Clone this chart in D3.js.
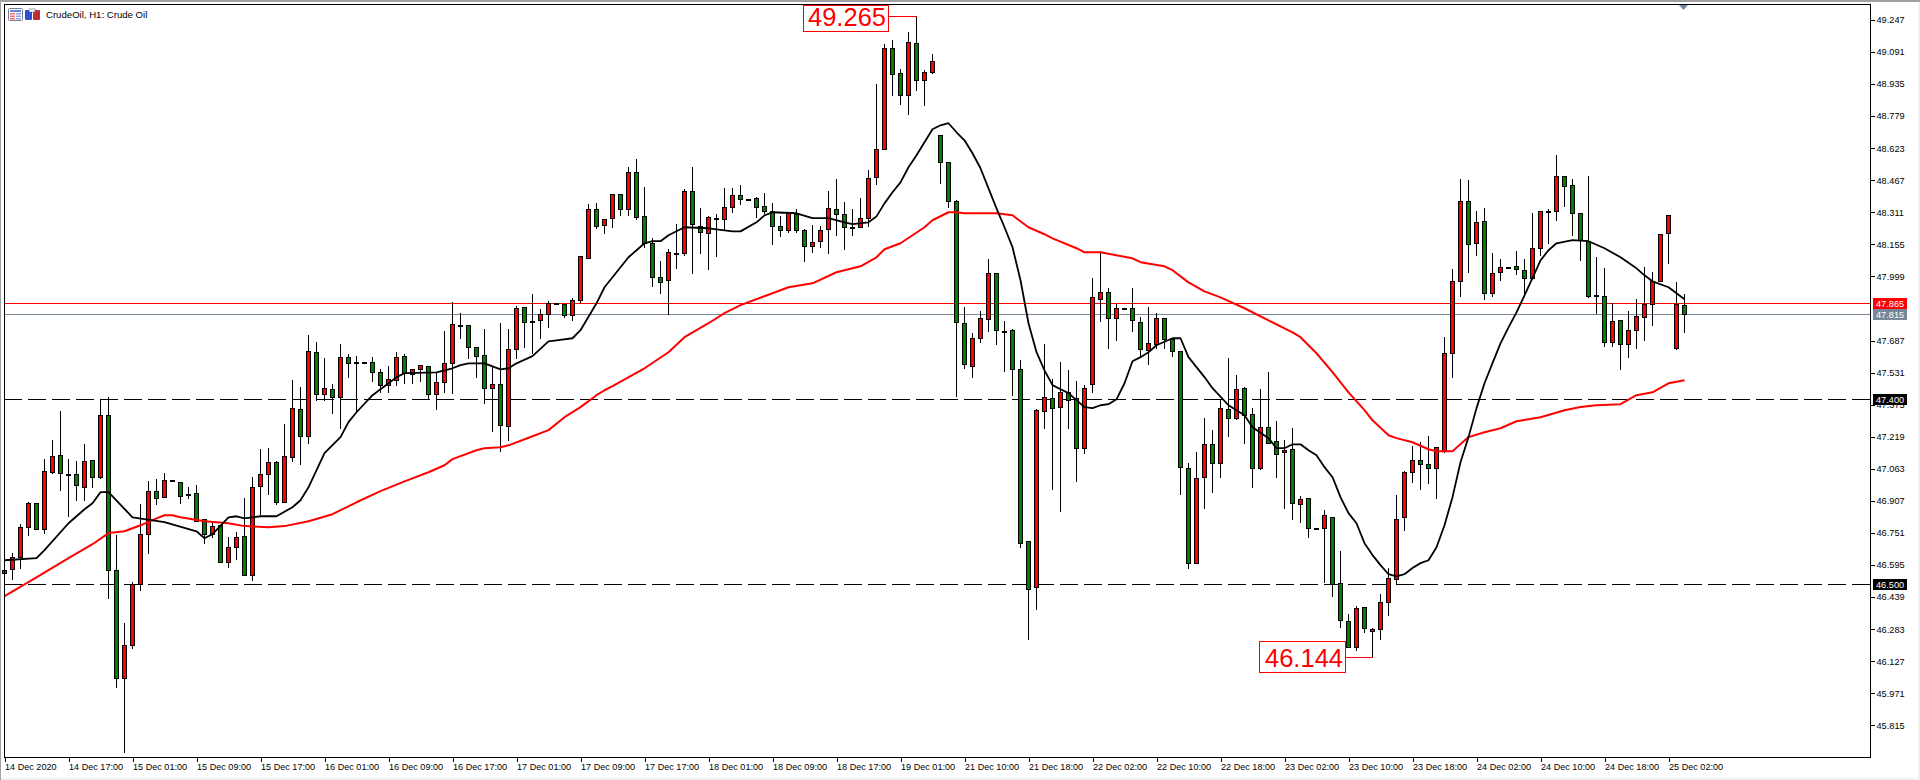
<!DOCTYPE html>
<html>
<head>
<meta charset="utf-8">
<script src="https://cdn.jsdelivr.net/npm/d3@7"></script>
<style>
html,body{margin:0;padding:0;background:#fff;overflow:hidden}
svg{display:block}
text{font-family:"Liberation Sans",Arial,sans-serif}
</style>
</head>
<body>
<svg id="chart" width="1920" height="780"></svg>
<script>
const opens=[46.555,46.575,46.633,46.779,46.895,46.769,47.046,47.129,47.036,47.036,46.973,47.105,47.022,47.324,46.570,46.044,46.205,46.501,46.745,46.954,46.925,47.007,46.997,46.939,46.944,46.818,46.745,46.788,46.608,46.681,46.735,46.545,46.978,47.036,47.095,46.900,47.119,47.353,47.221,47.630,47.426,47.450,47.411,47.605,47.581,47.581,47.581,47.532,47.470,47.494,47.611,47.523,47.547,47.562,47.426,47.484,47.576,47.761,47.761,47.654,
47.616,47.455,47.475,47.270,47.644,47.849,47.780,47.785,47.815,47.868,47.863,47.810,47.883,48.087,48.325,48.248,48.282,48.398,48.325,48.505,48.291,48.160,47.995,47.980,48.106,48.111,48.413,48.243,48.209,48.282,48.277,48.335,48.393,48.374,48.379,48.340,48.315,48.243,48.223,48.301,48.223,48.145,48.170,48.228,48.325,48.301,48.238,48.238,48.282,48.481,48.617,49.109,48.987,48.880,49.132,48.953,48.992,48.685,48.554,48.364,
47.770,47.562,47.698,47.790,48.014,47.732,47.737,47.547,46.710,46.487,47.343,47.406,47.363,47.436,47.406,47.163,47.475,47.888,47.922,47.795,47.844,47.844,47.775,47.640,47.668,47.795,47.693,47.635,47.066,46.604,47.022,47.182,47.090,47.353,47.309,47.455,47.328,47.066,47.265,47.197,47.143,47.158,46.890,46.920,46.774,46.774,46.827,46.506,46.321,46.195,46.390,46.273,46.282,46.414,46.526,46.827,47.046,47.105,47.085,47.066,
47.148,47.625,47.975,48.364,48.160,48.267,47.917,48.019,48.043,48.048,48.029,47.990,48.136,48.310,48.315,48.486,48.442,48.306,48.170,47.907,47.902,47.678,47.785,47.669,47.737,47.800,47.863,47.975,48.209,47.649,47.858];
const closes=[46.570,46.633,46.779,46.895,46.769,47.051,47.124,47.041,47.032,46.983,47.100,47.022,47.324,46.570,46.044,46.205,46.501,46.745,46.954,46.920,47.007,47.002,46.930,46.934,46.808,46.745,46.784,46.608,46.681,46.730,46.545,46.973,47.036,47.095,46.900,47.124,47.357,47.221,47.635,47.426,47.455,47.411,47.605,47.576,47.576,47.576,47.532,47.470,47.499,47.605,47.528,47.547,47.567,47.426,47.484,47.576,47.766,47.756,47.654,47.611,
47.455,47.475,47.275,47.644,47.844,47.775,47.775,47.815,47.868,47.863,47.810,47.883,48.097,48.325,48.243,48.277,48.398,48.325,48.505,48.286,48.160,47.995,47.970,48.116,48.111,48.413,48.253,48.213,48.286,48.277,48.335,48.393,48.374,48.369,48.335,48.315,48.243,48.223,48.306,48.223,48.145,48.165,48.223,48.330,48.301,48.238,48.233,48.282,48.476,48.617,49.109,48.982,48.880,49.137,48.953,48.992,49.045,48.554,48.364,47.775,
47.572,47.698,47.795,48.014,47.737,47.727,47.547,46.701,46.477,47.348,47.411,47.358,47.436,47.397,47.163,47.455,47.898,47.922,47.795,47.844,47.839,47.785,47.644,47.673,47.795,47.693,47.635,47.071,46.604,47.017,47.182,47.090,47.358,47.309,47.450,47.323,47.066,47.265,47.187,47.134,47.153,46.895,46.915,46.774,46.769,46.837,46.501,46.326,46.195,46.385,46.287,46.282,46.414,46.531,46.818,47.046,47.105,47.085,47.066,47.168,
47.625,47.975,48.364,48.155,48.262,47.917,48.014,48.043,48.038,48.033,47.990,48.136,48.315,48.315,48.486,48.437,48.306,48.175,47.902,47.902,47.678,47.780,47.669,47.737,47.805,47.863,47.975,48.204,48.296,47.863,47.815];
const highs=[46.594,46.657,46.798,46.905,46.895,47.115,47.207,47.348,47.115,47.105,47.187,47.105,47.401,47.416,46.745,46.316,46.516,46.895,47.007,47.017,47.046,47.007,47.002,46.978,46.988,46.822,46.813,46.788,46.735,46.759,46.925,47.027,47.163,47.168,47.105,47.285,47.499,47.465,47.717,47.683,47.605,47.479,47.673,47.625,47.616,47.581,47.611,47.552,47.567,47.635,47.625,47.547,47.567,47.567,47.532,47.737,47.878,47.824,47.761,47.654,
47.747,47.567,47.775,47.747,47.859,47.849,47.917,47.844,47.883,47.868,47.868,47.898,48.097,48.354,48.359,48.277,48.403,48.403,48.535,48.574,48.437,48.189,48.077,48.136,48.257,48.428,48.535,48.335,48.296,48.306,48.432,48.432,48.447,48.374,48.389,48.408,48.359,48.296,48.315,48.330,48.233,48.253,48.248,48.418,48.476,48.364,48.330,48.384,48.520,48.938,49.132,49.152,49.012,49.191,49.265,49.007,49.084,48.690,48.559,48.374,
47.853,47.727,47.834,48.087,48.014,47.785,47.747,47.596,46.715,47.358,47.673,47.503,47.586,47.547,47.494,47.475,47.995,48.126,47.946,47.868,47.844,47.946,47.805,47.853,47.824,47.795,47.693,47.635,47.095,47.148,47.314,47.255,47.406,47.605,47.523,47.465,47.363,47.455,47.537,47.299,47.207,47.265,46.934,46.925,46.774,46.866,46.827,46.667,46.360,46.399,46.390,46.292,46.458,46.584,46.939,47.056,47.177,47.197,47.226,47.168,
47.707,48.039,48.476,48.471,48.320,48.335,48.116,48.087,48.043,48.126,48.087,48.310,48.315,48.330,48.593,48.486,48.476,48.306,48.491,48.097,48.043,47.873,47.785,47.834,47.893,48.048,48.024,48.204,48.296,47.975,47.917];
const lows=[46.531,46.526,46.580,46.740,46.769,46.750,47.041,46.959,46.832,46.910,46.910,46.973,47.017,46.433,46.000,45.684,46.190,46.472,46.652,46.890,46.925,47.002,46.895,46.920,46.808,46.701,46.730,46.608,46.584,46.623,46.545,46.521,46.842,46.939,46.890,46.900,47.100,47.085,47.187,47.397,47.397,47.333,47.260,47.508,47.343,47.576,47.489,47.435,47.435,47.470,47.479,47.479,47.489,47.401,47.353,47.435,47.431,47.698,47.601,47.508,
47.382,47.246,47.148,47.202,47.601,47.654,47.625,47.698,47.751,47.863,47.800,47.785,47.873,48.087,48.233,48.209,48.238,48.296,48.296,48.277,48.141,47.951,47.917,47.815,48.038,48.102,48.014,48.111,48.034,48.097,48.228,48.310,48.350,48.369,48.286,48.306,48.155,48.194,48.213,48.213,48.072,48.116,48.141,48.111,48.199,48.131,48.199,48.238,48.243,48.447,48.617,48.880,48.836,48.787,48.904,48.831,48.987,48.452,48.335,47.416,
47.552,47.508,47.678,47.732,47.668,47.537,47.421,46.681,46.234,46.380,47.260,46.963,46.856,47.260,47.002,47.139,47.435,47.780,47.649,47.688,47.839,47.732,47.610,47.572,47.649,47.649,47.610,46.939,46.580,46.604,46.871,46.949,47.022,47.221,47.304,47.187,46.973,47.061,47.187,47.022,46.871,46.818,46.803,46.730,46.769,46.511,46.443,46.292,46.195,46.180,46.268,46.144,46.234,46.350,46.501,46.764,46.997,46.963,46.992,46.920,
47.143,47.508,47.902,48.019,48.102,47.888,47.902,47.980,48.038,48.009,47.917,47.985,48.102,48.160,48.272,48.340,48.199,48.077,47.898,47.820,47.659,47.659,47.547,47.605,47.649,47.688,47.761,47.975,48.063,47.644,47.727];
const fastMaBars=[0,4,5,8,10,11,12,13,16,20,24,25,26,28,29,30,32,34,36,37,38,40,42,43,44,46,48,49,50,54,56,57,58,60,62,63,64,66,68,69,71,72,74,75,76,78,80,81,82,83,85,88,91,92,94,95,96,99,101,103,105,106,108,109,110,111,112,113,114,116,117,118,119,120,121,122,123,124,125,126,127,128,129,130,131,132,133,135,136,137,138,139,140,141,142,143,144,146,147,148,150,151,153,155,156,158,159,160,161,162,163,164,165,166,167,168,169,170,171,172,173,174,175,176,177,178,179,180,181,182,183,184,185,186,187,188,189,190,191,192,193,194,196,198,200,202,204,205,206,208,210];
const fastMaValues=[46.618,46.628,46.667,46.798,46.866,46.895,46.949,46.949,46.827,46.803,46.759,46.725,46.745,46.827,46.832,46.822,46.832,46.832,46.876,46.910,46.973,47.139,47.217,47.290,47.338,47.421,47.479,47.509,47.528,47.532,47.552,47.567,47.576,47.576,47.547,47.552,47.576,47.611,47.683,47.688,47.698,47.737,47.868,47.946,47.995,48.092,48.160,48.170,48.170,48.199,48.238,48.233,48.218,48.218,48.262,48.296,48.311,48.306,48.282,48.282,48.262,48.253,48.262,48.291,48.354,48.408,48.456,48.530,48.588,48.715,48.734,48.744,48.700,48.661,48.598,48.525,48.427,48.330,48.238,48.141,47.980,47.771,47.630,47.542,47.470,47.450,47.431,47.363,47.358,47.372,47.377,47.401,47.479,47.586,47.606,47.630,47.664,47.698,47.698,47.606,47.509,47.455,47.372,47.323,47.265,47.212,47.163,47.163,47.182,47.182,47.153,47.129,47.071,47.022,46.925,46.847,46.798,46.701,46.643,46.594,46.550,46.540,46.550,46.580,46.604,46.618,46.681,46.788,46.925,47.095,47.217,47.358,47.479,47.577,47.673,47.751,47.824,47.907,47.990,48.077,48.126,48.160,48.175,48.170,48.136,48.092,48.038,48.004,47.975,47.946,47.888];
const slowMaBars=[0,4,8,11,13,15,17,19,20,21,22,25,28,30,33,35,38,41,44,47,50,53,55,56,59,60,62,63,66,68,70,72,74,75,76,80,83,85,88,90,92,96,98,101,104,107,109,110,112,115,116,118,119,120,124,126,128,130,131,134,135,137,141,142,145,146,148,150,152,155,158,161,162,164,166,168,170,171,173,174,176,178,179,180,181,183,185,187,189,192,195,197,199,202,204,206,208,210];
const slowMaValues=[46.443,46.535,46.628,46.696,46.750,46.759,46.788,46.822,46.837,46.837,46.827,46.808,46.798,46.784,46.779,46.784,46.808,46.842,46.900,46.954,47.002,47.046,47.080,47.110,47.153,47.163,47.168,47.177,47.221,47.251,47.314,47.363,47.421,47.445,47.465,47.552,47.630,47.703,47.771,47.820,47.859,47.917,47.946,47.965,48.019,48.048,48.092,48.131,48.160,48.238,48.272,48.311,48.311,48.306,48.306,48.296,48.238,48.204,48.184,48.136,48.116,48.116,48.087,48.068,48.048,48.029,47.970,47.926,47.897,47.844,47.785,47.727,47.703,47.625,47.533,47.435,47.348,47.299,47.226,47.212,47.192,47.158,47.148,47.148,47.148,47.217,47.241,47.260,47.294,47.314,47.348,47.363,47.372,47.377,47.421,47.435,47.479,47.494];
const priceTicks=[49.247,49.091,48.935,48.779,48.623,48.467,48.311,48.155,47.999,47.687,47.531,47.375,47.219,47.063,46.907,46.751,46.595,46.439,46.283,46.127,45.971,45.815];
const timeLabels=["14 Dec 2020","14 Dec 17:00","15 Dec 01:00","15 Dec 09:00","15 Dec 17:00","16 Dec 01:00","16 Dec 09:00","16 Dec 17:00","17 Dec 01:00","17 Dec 09:00","17 Dec 17:00","18 Dec 01:00","18 Dec 09:00","18 Dec 17:00","19 Dec 01:00","21 Dec 10:00","21 Dec 18:00","22 Dec 02:00","22 Dec 10:00","22 Dec 18:00","23 Dec 02:00","23 Dec 10:00","23 Dec 18:00","24 Dec 02:00","24 Dec 10:00","24 Dec 18:00","25 Dec 02:00"];
const barsPerTimeLabel=8;
const levelLines=[{p:47.865,c:"#ff0000",bg:"#ff0000",dash:null},{p:47.815,c:"#778899",bg:"#778899",dash:null},{p:47.4,c:"#000",bg:"#000",dash:"18 6"},{p:46.5,c:"#000",bg:"#000",dash:"18 6"}];
const extremes=[{value:49.265,bar:114,box:[803,5,85,26],tx:808,tb:26},{value:46.144,bar:171,box:[1259,641,86,31],tx:1265,tb:667}];

const W=1920,H=780,L=4,T=4,R=1870,B=757;
const x=d3.scaleLinear().domain([0,1]).range([4.5,12.5]);
const y=d3.scaleLinear().domain([47.4,46.5]).range([399.5,584.5]);
const py=p=>Math.round(y(p)-0.5)+0.5;
const svg=d3.select("#chart");
// window frame
svg.append("rect").attr("width",W).attr("height",H).attr("fill","#f0f0f0");
svg.append("rect").attr("x",1).attr("y",2).attr("width",W-3).attr("height",776).attr("fill","#fff");
svg.append("rect").attr("width",W).attr("height",2).attr("fill","#a0a0a0");
svg.append("rect").attr("width",1).attr("height",H).attr("fill","#a0a0a0");

const g=svg.append("g");
// price axis
const yAxis=d3.axisRight(y).tickValues(priceTicks).tickSize(4).tickPadding(2).tickFormat(d3.format(".3f"));
const ya=g.append("g").attr("transform",`translate(${R+0.5},0)`).call(yAxis);
ya.select(".domain").remove();
ya.selectAll("line").attr("shape-rendering","crispEdges").attr("stroke","#000");
ya.selectAll("text").attr("font-size","9.2px").attr("fill","#000").style("font-family",'"Liberation Sans"');
// time axis
const tickBars=timeLabels.map((_,i)=>i*barsPerTimeLabel);
const xAxis=d3.axisBottom(x).tickValues(tickBars).tickSize(4).tickFormat((d,i)=>timeLabels[i]);
const xa=g.append("g").attr("transform",`translate(0,${B+0.5})`).call(xAxis);
xa.select(".domain").remove();
xa.selectAll("line").attr("shape-rendering","crispEdges").attr("stroke","#000");
xa.selectAll("text").attr("text-anchor","start").attr("y",6).attr("dy","0.71em").attr("font-size","9.1px").attr("fill","#000").style("font-family",'"Liberation Sans"');

// level lines (under candles)
const plot=g.append("g");
plot.selectAll("line.level").data(levelLines).join("line").attr("class","level")
 .attr("x1",L).attr("x2",R).attr("y1",d=>py(d.p)).attr("y2",d=>py(d.p))
 .attr("stroke",d=>d.c).attr("stroke-dasharray",d=>d.dash).attr("stroke-width",1).attr("shape-rendering","crispEdges");

// candles
const bars=d3.range(opens.length);
plot.selectAll("line.wick").data(bars).join("line").attr("class","wick")
 .attr("x1",x).attr("x2",x).attr("y1",i=>py(highs[i])).attr("y2",i=>py(lows[i]))
 .attr("stroke","#000").attr("shape-rendering","crispEdges");
plot.selectAll("rect.body").data(bars).join("rect").attr("class","body")
 .attr("x",i=>x(i)-2).attr("width",4)
 .attr("y",i=>py(Math.max(opens[i],closes[i])))
 .attr("height",i=>Math.max(1,py(Math.min(opens[i],closes[i]))-py(Math.max(opens[i],closes[i]))))
 .attr("fill",i=>closes[i]>=opens[i]?"#ff0000":"#008000")
 .attr("stroke","#000").attr("stroke-width",1).attr("shape-rendering","crispEdges");

// moving averages
const line=d3.line().x(d=>x(d[0])).y(d=>y(d[1]));
plot.append("path").attr("d",line(slowMaBars.map((b,i)=>[b,slowMaValues[i]])))
 .attr("fill","none").attr("stroke","#ff0000").attr("stroke-width",2).attr("stroke-linejoin","round");
plot.append("path").attr("d",line(fastMaBars.map((b,i)=>[b,fastMaValues[i]])))
 .attr("fill","none").attr("stroke","#000").attr("stroke-width",1.8).attr("stroke-linejoin","round");

// frame of plot
g.append("path").attr("d",`M${L+0.5},${B+0.5}V${T+0.5}H${R+0.5}V${B+0.5}H${L+0.5}`)
 .attr("fill","none").attr("stroke","#000").attr("shape-rendering","crispEdges");

// extreme annotations
const ann=g.selectAll("g.ann").data(extremes).join("g").attr("class","ann");
ann.append("path").attr("d",d=>{
  const ly=Math.round(y(d.value)-0.5)+0.5;
  return `M${d.box[0]+d.box[2]},${ly}H${x(d.bar)}`;
}).attr("fill","none").attr("stroke","#ff0000").attr("shape-rendering","crispEdges");
ann.append("rect").attr("x",d=>d.box[0]+0.5).attr("y",d=>d.box[1]+0.5).attr("width",d=>d.box[2]).attr("height",d=>d.box[3])
 .attr("fill","#fff").attr("stroke","#ff0000").attr("shape-rendering","crispEdges");
ann.append("text").attr("x",d=>d.tx).attr("y",d=>d.tb).attr("font-size","25.5px").attr("fill","#ff0000")
 .text(d=>d3.format(".3f")(d.value));

// price tags
const tags=g.selectAll("g.tag").data(levelLines).join("g").attr("class","tag");
tags.append("rect").attr("x",1873).attr("width",34).attr("y",d=>py(d.p)-5.5).attr("height",11).attr("fill",d=>d.bg);
tags.append("text").attr("x",1876).attr("y",d=>py(d.p)+3.5).attr("font-size","9.2px").attr("fill","#fff").text(d=>d3.format(".3f")(d.p));

// title and icons
g.append("text").attr("x",46).attr("y",18).attr("font-size","9.6px").attr("fill","#000").text("CrudeOil, H1:  Crude Oil");
const ic=g.append("g");
ic.append("rect").attr("x",8.5).attr("y",8.5).attr("width",14).attr("height",12).attr("rx",1).attr("fill","#fff").attr("stroke","#7080a0");
ic.append("rect").attr("x",10).attr("y",10).attr("width",11).attr("height",2).attr("fill","#6a7fe0");
[13,15.5,18].forEach(v=>{
  ic.append("rect").attr("x",10).attr("y",v).attr("width",5).attr("height",1.5).attr("fill","#f07070");
  ic.append("rect").attr("x",16).attr("y",v).attr("width",5).attr("height",1.5).attr("fill","#8fa0ee");
});
ic.append("rect").attr("x",25).attr("y",10).attr("width",7).attr("height",10).attr("rx",1).attr("fill","#3050d0");
ic.append("rect").attr("x",33).attr("y",10).attr("width",7).attr("height",10).attr("rx",1).attr("fill","#c03030");
ic.append("rect").attr("x",29).attr("y",9).attr("width",6).attr("height",3).attr("fill","#fff").attr("stroke","#667").attr("stroke-width",0.6);
// shift marker
g.append("path").attr("d",d3.line()([[1679,5],[1688,5],[1683.5,10]])+"Z").attr("fill","#778899");
</script>
</body>
</html>
